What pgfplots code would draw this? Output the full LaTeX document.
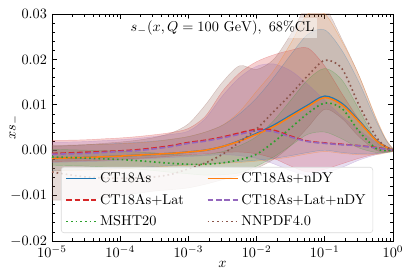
\documentclass[border=0pt]{standalone}
\usepackage{pgfplots}
\usepackage{pgfplotstable}
\pgfplotsset{compat=1.18}
\usepgfplotslibrary{fillbetween}
\definecolor{tabblue}{RGB}{31,119,180}
\definecolor{taborange}{RGB}{255,127,14}
\definecolor{tabred}{RGB}{214,39,40}
\definecolor{tabgreen}{RGB}{44,160,44}
\definecolor{tabpurple}{RGB}{148,103,189}
\definecolor{tabbrown}{RGB}{140,86,75}

\pgfplotstableread{
x c lo hi
1e-5 -0.0018 -0.0045 0.0011
1.778e-5 -0.0017 -0.0044 0.0011
3.162e-5 -0.0016 -0.0043 0.0012
5.623e-5 -0.00145 -0.0042 0.0013
1e-4 -0.0013 -0.0040 0.0015
1.778e-4 -0.0011 -0.0038 0.0017
3.162e-4 -0.0009 -0.0036 0.0020
5.623e-4 -0.0007 -0.0034 0.0024
1e-3 -0.0004 -0.0032 0.0030
1.778e-3 0.0000 -0.0030 0.0040
3.162e-3 0.0008 -0.0028 0.0055
5.623e-3 0.0021 -0.0025 0.0080
1e-2 0.0037 -0.0022 0.0115
1.778e-2 0.0055 -0.0018 0.0160
3.162e-2 0.0077 -0.0012 0.0210
5.623e-2 0.0099 -0.0005 0.0255
0.1 0.0119 0.0000 0.0265
0.1778 0.0103 -0.0005 0.0220
0.3162 0.0065 -0.0008 0.0150
0.5623 0.0023 -0.0008 0.0065
0.7943 0.0007 -0.0005 0.0022
1 0.0000 -0.0003 0.0003
}\tblue

\pgfplotstableread{
x c lo hi
1e-5 -0.0018 -0.0046 0.0011
1.778e-5 -0.0017 -0.0045 0.0011
3.162e-5 -0.0016 -0.0044 0.0012
5.623e-5 -0.00145 -0.0043 0.0013
1e-4 -0.0013 -0.0041 0.0014
1.778e-4 -0.0011 -0.0039 0.0016
3.162e-4 -0.0009 -0.0037 0.0019
5.623e-4 -0.0007 -0.0035 0.0024
1e-3 -0.0004 -0.0033 0.0030
1.778e-3 0.0000 -0.0031 0.0040
3.162e-3 0.0008 -0.0029 0.0055
5.623e-3 0.0020 -0.0027 0.0085
1e-2 0.0035 -0.0024 0.0130
1.778e-2 0.0052 -0.0020 0.0175
3.162e-2 0.0074 -0.0015 0.0235
5.623e-2 0.0096 -0.0008 0.0300
0.1 0.0116 -0.0003 0.0300
0.1778 0.0100 -0.0007 0.0240
0.3162 0.0063 -0.0010 0.0165
0.5623 0.0022 -0.0010 0.0072
0.7943 0.0007 -0.0006 0.0024
1 0.0000 -0.0003 0.0004
}\torange

\pgfplotstableread{
x c lo hi
1e-5 -0.0007 -0.0025 0.0022
1.778e-5 -0.0006 -0.0024 0.0022
3.162e-5 -0.00045 -0.0023 0.0023
5.623e-5 -0.0003 -0.0022 0.0025
1e-4 -0.00015 -0.0020 0.0027
1.778e-4 0.0001 -0.0018 0.0030
3.162e-4 0.0005 -0.0016 0.0034
5.623e-4 0.0010 -0.0013 0.0039
1e-3 0.0017 -0.0010 0.0048
1.778e-3 0.0022 -0.0008 0.0075
3.162e-3 0.0029 -0.0005 0.0130
5.623e-3 0.0038 -0.0004 0.0170
1e-2 0.0046 -0.0008 0.0195
1.778e-2 0.0044 -0.0018 0.0210
3.162e-2 0.0031 -0.0035 0.0220
5.623e-2 0.0020 -0.0048 0.0225
0.1 0.0016 -0.0042 0.0185
0.1778 0.0013 -0.0030 0.0125
0.3162 0.0010 -0.0018 0.0068
0.5623 0.0006 -0.0008 0.0025
0.7943 0.00025 -0.0004 0.0009
1 0.0000 -0.0002 0.0003
}\tred

\pgfplotstableread{
x c lo hi
1e-5 -0.0009 -0.0027 0.0018
1.778e-5 -0.0008 -0.0026 0.0018
3.162e-5 -0.0007 -0.0025 0.0019
5.623e-5 -0.0005 -0.0024 0.0021
1e-4 -0.0003 -0.0022 0.0023
1.778e-4 -0.0001 -0.0020 0.0026
3.162e-4 0.0003 -0.0018 0.0030
5.623e-4 0.0008 -0.0016 0.0035
1e-3 0.0015 -0.0014 0.0042
1.778e-3 0.0020 -0.0012 0.0070
3.162e-3 0.0027 -0.0010 0.0120
5.623e-3 0.0035 -0.0012 0.0160
1e-2 0.0043 -0.0018 0.0185
1.778e-2 0.0041 -0.0030 0.0190
3.162e-2 0.0029 -0.0045 0.0175
5.623e-2 0.0019 -0.0055 0.0145
0.1 0.0015 -0.0050 0.0110
0.1778 0.0012 -0.0038 0.0075
0.3162 0.0010 -0.0022 0.0045
0.5623 0.0005 -0.0010 0.0018
0.7943 0.0002 -0.0005 0.0008
1 0.0000 -0.0002 0.0003
}\tpurple

\pgfplotstableread{
x c lo hi
1e-5 -0.0015 -0.0033 0.0002
1.778e-5 -0.0016 -0.0034 0.0001
3.162e-5 -0.00175 -0.0035 0.0000
5.623e-5 -0.0019 -0.0037 -0.0001
1e-4 -0.00205 -0.0039 -0.0002
1.778e-4 -0.0023 -0.0042 -0.0004
3.162e-4 -0.0026 -0.0045 -0.0006
5.623e-4 -0.0029 -0.0049 -0.0009
1e-3 -0.0031 -0.0052 -0.0011
1.778e-3 -0.0031 -0.0055 -0.0010
3.162e-3 -0.0028 -0.0054 -0.0003
5.623e-3 -0.0021 -0.0050 0.0010
1e-2 -0.0009 -0.0035 0.0030
1.778e-2 0.0018 -0.0015 0.0065
3.162e-2 0.0049 0.0010 0.0110
5.623e-2 0.0081 0.0035 0.0155
0.1 0.0104 0.0040 0.0180
0.1778 0.0092 0.0025 0.0155
0.3162 0.0042 0.0005 0.0090
0.5623 0.0004 -0.0005 0.0020
0.7943 -0.0001 -0.0005 0.0003
1 0.0000 -0.0003 0.0003
}\tgreen

\pgfplotstableread{
x c lo hi
1e-5 -0.0048 -0.0110 0.0008
1.778e-5 -0.0054 -0.0110 0.0010
3.162e-5 -0.0059 -0.0108 0.0012
5.623e-5 -0.0061 -0.0105 0.0015
1e-4 -0.0062 -0.0100 0.0018
1.778e-4 -0.0061 -0.0095 0.0022
3.162e-4 -0.0059 -0.0090 0.0028
5.623e-4 -0.0053 -0.0087 0.0038
1e-3 -0.0041 -0.0083 0.0058
1.778e-3 -0.0028 -0.0075 0.0100
3.162e-3 -0.0009 -0.0065 0.0150
5.623e-3 0.0018 -0.0055 0.0186
1e-2 0.0047 -0.0040 0.0178
1.778e-2 0.0085 -0.0020 0.0200
3.162e-2 0.0123 0.0010 0.0255
5.623e-2 0.0164 0.0050 0.0320
0.1 0.0198 0.0090 0.0315
0.1778 0.0180 0.0070 0.0245
0.3162 0.0100 0.0030 0.0165
0.5623 0.0030 0.0000 0.0070
0.7943 0.0007 -0.0003 0.0022
1 0.0000 -0.0003 0.0003
}\tbrown

\begin{document}
\begin{tikzpicture}
\begin{axis}[
  at={(0,0)}, anchor=south west, scale only axis,
  width=238.7pt, height=158.9pt,
  xmode=log, xmin=1e-5, xmax=1, ymin=-0.02, ymax=0.03,
  xtick={1e-5,1e-4,1e-3,1e-2,1e-1,1},
  ytick={-0.02,-0.01,0,0.01,0.02,0.03},
  minor y tick num=4,
  scaled y ticks=false,
  yticklabel style={/pgf/number format/.cd, fixed, fixed zerofill, precision=2},
  tick align=inside, major tick length=3.5pt, minor tick length=2pt,
  tick style={black, line width=0.5pt},
  axis line style={line width=0.6pt},
  xlabel={$x$}, ylabel={$xs_-$},
  x label style={at={(axis description cs:0.5,-0.105)}, anchor=center},
  y label style={at={(axis description cs:-0.111,0.5)}, anchor=center},
  legend columns=2,
  legend cell align=left,
  legend image code/.code={\draw[#1] (0pt,0pt) -- (21pt,0pt);},
  legend style={at={(0.484,0.035)}, anchor=south, draw=black!15, rounded corners=2pt,
    fill=white, fill opacity=0.8, text opacity=1,
    inner xsep=3pt, inner ysep=1.5pt, row sep=2.5pt,
    /tikz/every even column/.append style={column sep=14pt}},
]
% bands
\addplot[name path=bh, smooth, draw=tabblue, draw opacity=0.3, line width=0.3pt, forget plot] table[x=x,y=hi]{\tblue};
\addplot[name path=bl, smooth, draw=tabblue, draw opacity=0.3, line width=0.3pt, forget plot] table[x=x,y=lo]{\tblue};
\addplot[fill=tabblue, fill opacity=0.18, draw=none, forget plot] fill between[of=bh and bl];

\addplot[name path=rh, smooth, draw=tabred, draw opacity=0.3, line width=0.3pt, forget plot] table[x=x,y=hi]{\tred};
\addplot[name path=rl, smooth, draw=tabred, draw opacity=0.3, line width=0.3pt, forget plot] table[x=x,y=lo]{\tred};
\addplot[fill=tabred, fill opacity=0.22, draw=none, forget plot] fill between[of=rh and rl];

\addplot[name path=gh, smooth, draw=tabgreen, draw opacity=0.3, line width=0.3pt, forget plot] table[x=x,y=hi]{\tgreen};
\addplot[name path=gl, smooth, draw=tabgreen, draw opacity=0.3, line width=0.3pt, forget plot] table[x=x,y=lo]{\tgreen};
\addplot[fill=tabgreen, fill opacity=0.18, draw=none, forget plot] fill between[of=gh and gl];

\addplot[name path=oh, smooth, draw=taborange, draw opacity=0.35, line width=0.3pt, forget plot] table[x=x,y=hi]{\torange};
\addplot[name path=ol, smooth, draw=taborange, draw opacity=0.35, line width=0.3pt, forget plot] table[x=x,y=lo]{\torange};
\addplot[fill=taborange, fill opacity=0.13, draw=none, forget plot] fill between[of=oh and ol];

\addplot[name path=ph, smooth, draw=tabpurple, draw opacity=0.3, line width=0.3pt, forget plot] table[x=x,y=hi]{\tpurple};
\addplot[name path=pl, smooth, draw=tabpurple, draw opacity=0.3, line width=0.3pt, forget plot] table[x=x,y=lo]{\tpurple};
\addplot[fill=tabpurple, fill opacity=0.22, draw=none, forget plot] fill between[of=ph and pl];

\addplot[name path=nh, smooth, draw=tabbrown, draw opacity=0.3, line width=0.3pt, forget plot] table[x=x,y=hi]{\tbrown};
\addplot[name path=nl, smooth, draw=tabbrown, draw opacity=0.3, line width=0.3pt, forget plot] table[x=x,y=lo]{\tbrown};
\addplot[fill=tabbrown, fill opacity=0.22, draw=none, forget plot] fill between[of=nh and nl];

% central lines
\addplot[smooth, color=tabblue, draw=tabblue, line width=1.1pt] table[x=x,y=c]{\tblue};
\addlegendentry{CT18As}
\addplot[smooth, color=taborange, draw=taborange, line width=1.1pt] table[x=x,y=c]{\torange};
\addlegendentry{CT18As+nDY}
\addplot[smooth, color=tabred, draw=tabred, line width=1.1pt, dash pattern=on 4pt off 1.8pt] table[x=x,y=c]{\tred};
\addlegendentry{CT18As+Lat}
\addplot[smooth, color=tabpurple, draw=tabpurple, line width=1.1pt, dash pattern=on 4pt off 1.8pt] table[x=x,y=c]{\tpurple};
\addlegendentry{CT18As+Lat+nDY}
\addplot[smooth, color=tabgreen, draw=tabgreen, line width=1.15pt, dash pattern=on 1.15pt off 2.1pt] table[x=x,y=c]{\tgreen};
\addlegendentry{MSHT20}
\addplot[smooth, color=tabbrown, draw=tabbrown, line width=1.15pt, dash pattern=on 1.15pt off 2.1pt] table[x=x,y=c]{\tbrown};
\addlegendentry{NNPDF4.0}

\node[fill=white, fill opacity=0.5, text opacity=1, inner sep=2pt] at (axis description cs:0.5,0.94) {$s_-(x,Q=100~\mathrm{GeV}),~68\%\mathrm{CL}$};
\end{axis}
\pgfresetboundingbox
\useasboundingbox (-36.4pt,-21pt) rectangle (248.5pt,168.7pt);
\end{tikzpicture}
\end{document}
